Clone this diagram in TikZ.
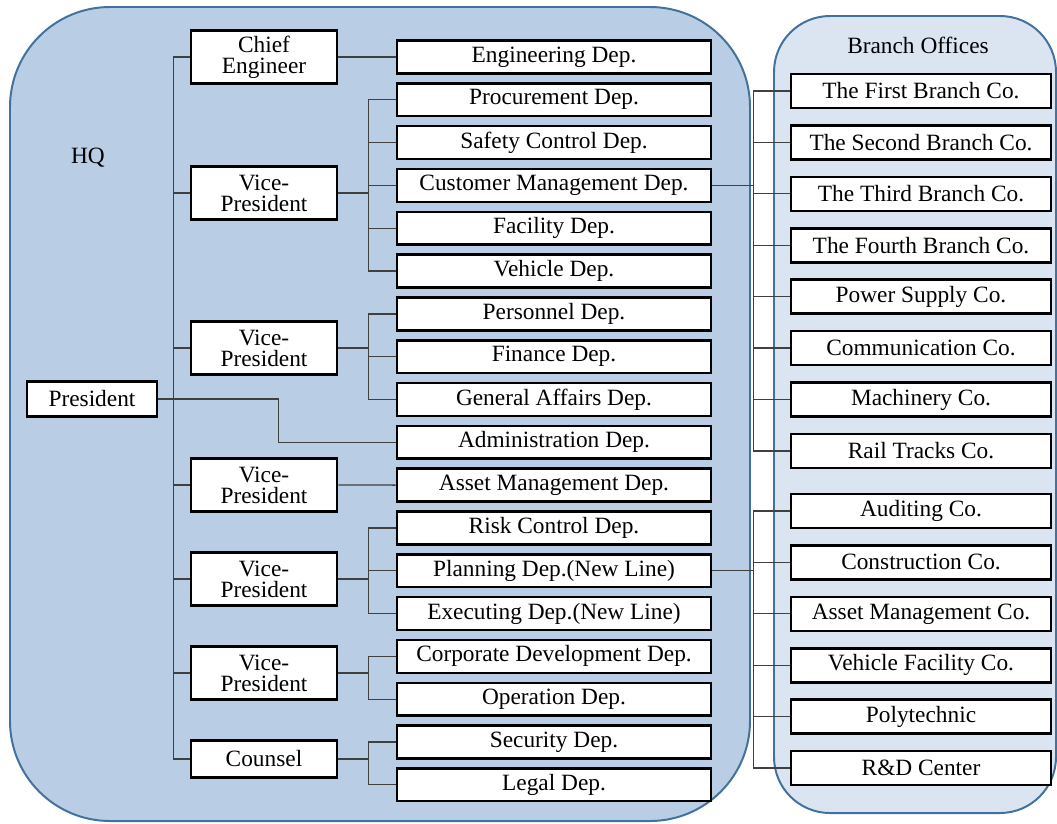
\documentclass[tikz,border=0pt]{standalone}
\usepackage{fontspec}
\setmainfont{Liberation Serif}
\usetikzlibrary{positioning}

\definecolor{hqfill}{HTML}{B9CDE5}
\definecolor{brfill}{HTML}{DBE5F1}
\definecolor{frame}{HTML}{41719C}

\begin{document}
\begin{tikzpicture}[x=0.025cm,y=-0.025cm,node distance=1.07cm,
  font=\fontsize{16.6pt}{15pt}\selectfont,
  box/.style={rectangle,draw,line width=1.8pt,fill=white,inner sep=0pt},
  dep node/.style={box,minimum width=7.85cm,minimum height=0.82cm},
  head node/.style={box,minimum width=3.65cm,minimum height=1.32cm,align=center},
  branch node/.style={box,minimum width=6.5cm,minimum height=0.85cm}]

  \tikzstyle{link} = [draw,line width=0.9pt,black!75]
  \tikzstyle{office} = [draw=frame,line width=1.4pt]

  \useasboundingbox (0,0) rectangle (1057,823);
  \path[office,fill=hqfill,rounded corners=2.5cm] (10,7) rectangle (750,821);
  \path[office,fill=brfill,rounded corners=1.4cm] (774,16) rectangle (1056,813);
  \node (hq) at (88,158) {HQ};
  \node (bo) at (918,45) {Branch Offices};

  % departments
  \node[dep node] (eng) at (554,57) {Engineering Dep.};
  \node[dep node] (proc) [below of=eng] {Procurement Dep.};
  \node[dep node] (saf) [below of=proc] {Safety Control Dep.};
  \node[dep node] (cust) [below of=saf] {Customer Management Dep.};
  \node[dep node] (fac) [below of=cust] {Facility Dep.};
  \node[dep node] (veh) [below of=fac] {Vehicle Dep.};
  \node[dep node] (pers) [below of=veh] {Personnel Dep.};
  \node[dep node] (fin) [below of=pers] {Finance Dep.};
  \node[dep node] (gen) [below of=fin] {General Affairs Dep.};
  \node[dep node] (adm) [below of=gen] {Administration Dep.};
  \node[dep node] (asset) [below of=adm] {Asset Management Dep.};
  \node[dep node] (risk) [below of=asset] {Risk Control Dep.};
  \node[dep node] (plan) [below of=risk] {Planning Dep.(New Line)};
  \node[dep node] (exe) [below of=plan] {Executing Dep.(New Line)};
  \node[dep node] (corp) [below of=exe] {Corporate Development Dep.};
  \node[dep node] (oper) [below of=corp] {Operation Dep.};
  \node[dep node] (sec) [below of=oper] {Security Dep.};
  \node[dep node] (legal) [below of=sec] {Legal Dep.};

  % heads
  \node[box,minimum width=3.25cm,minimum height=0.87cm] (pres) at (92,399) {President};
  \node[head node] (ce) at (264,57) {Chief\\Engineer};
  \node[head node] (vp1) at (264,193) {Vice-\\President};
  \node[head node] (vp2) at (264,348) {Vice-\\President};
  \node[head node] (vp3) at (264,485) {Vice-\\President};
  \node[head node] (vp4) at (264,579) {Vice-\\President};
  \node[head node] (vp5) at (264,673) {Vice-\\President};
  \node[head node,minimum height=0.92cm] (cou) at (264,759) {Counsel};

  % branch offices
  \begin{scope}[node distance=1.285cm]
  \node[branch node] (b1) at (921,91) {The First Branch Co.};
  \node[branch node] (b2) [below of=b1] {The Second Branch Co.};
  \node[branch node] (b3) [below of=b2] {The Third Branch Co.};
  \node[branch node] (b4) [below of=b3] {The Fourth Branch Co.};
  \node[branch node] (b5) [below of=b4] {Power Supply Co.};
  \node[branch node] (b6) [below of=b5] {Communication Co.};
  \node[branch node] (b7) [below of=b6] {Machinery Co.};
  \node[branch node] (b8) [below of=b7] {Rail Tracks Co.};
  \node[branch node] (b9) at (921,511) {Auditing Co.};
  \node[branch node] (b10) [below of=b9] {Construction Co.};
  \node[branch node] (b11) [below of=b10] {Asset Management Co.};
  \node[branch node] (b12) [below of=b11] {Vehicle Facility Co.};
  \node[branch node] (b13) [below of=b12] {Polytechnic};
  \node[branch node] (b14) [below of=b13] {R\&D Center};
  \end{scope}

  % tree
  \draw[link] (ce.west) -- ++(-16,0) coordinate (trunk) -- (trunk |- cou.west) -- (cou.west);
  \foreach \n in {vp1,vp2,vp3,vp4,vp5}
    \draw[link] (\n.west) -- (\n.west -| trunk);
  \draw[link] (pres.east) -- ++(120,0) |- (adm.west);
  \draw[link] (ce.east) -- (eng.west);
  \draw[link] (vp3.east) -- (asset.west);

  \draw[link] (vp1.east) -- ++(30,0) coordinate (g1);
  \draw[link] (g1 |- proc.west) -- (g1 |- veh.west);
  \foreach \n in {proc,saf,cust,fac,veh}
    \draw[link] (g1 |- \n.west) -- (\n.west);

  \draw[link] (vp2.east) -- ++(30,0) coordinate (g2);
  \draw[link] (g2 |- pers.west) -- (g2 |- gen.west);
  \foreach \n in {pers,fin,gen}
    \draw[link] (g2 |- \n.west) -- (\n.west);

  \draw[link] (vp4.east) -- ++(30,0) coordinate (g4);
  \draw[link] (g4 |- risk.west) -- (g4 |- exe.west);
  \foreach \n in {risk,plan,exe}
    \draw[link] (g4 |- \n.west) -- (\n.west);

  \draw[link] (vp5.east) -- ++(30,0) coordinate (g5);
  \draw[link] (g5 |- corp.west) -- (g5 |- oper.west);
  \foreach \n in {corp,oper}
    \draw[link] (g5 |- \n.west) -- (\n.west);

  \draw[link] (cou.east) -- ++(30,0) coordinate (g6);
  \draw[link] (g6 |- sec.west) -- (g6 |- legal.west);
  \foreach \n in {sec,legal}
    \draw[link] (g6 |- \n.west) -- (\n.west);

  % to branch offices
  \draw[link] (cust.east) -- ++(41,0) coordinate (bus);
  \draw[link] (bus |- b1.west) -- (bus |- b8.west);
  \foreach \i in {1,...,8}
    \draw[link] (bus |- b\i.west) -- (b\i.west);
  \draw[link] (plan.east) -- (plan.east -| bus);
  \draw[link] (bus |- b9.west) -- (bus |- b14.west);
  \foreach \i in {9,...,14}
    \draw[link] (bus |- b\i.west) -- (b\i.west);
\end{tikzpicture}
\end{document}
